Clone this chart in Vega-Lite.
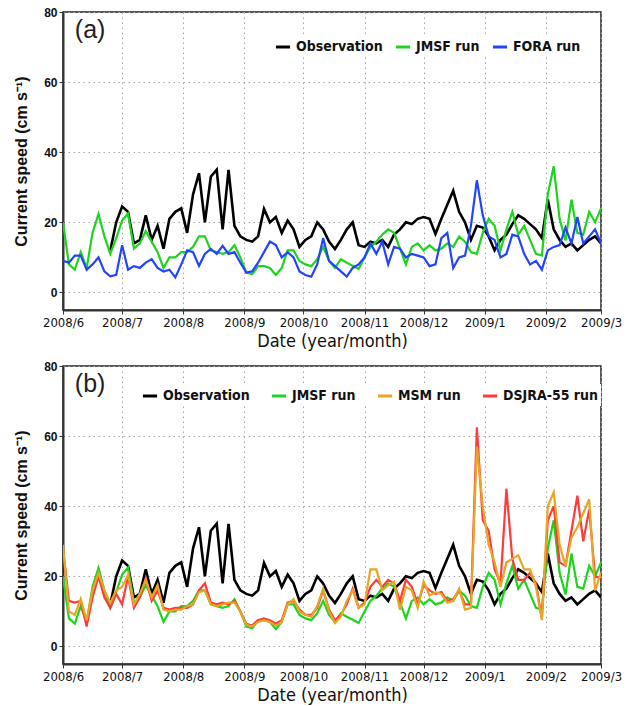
{
  "$schema": "https://vega.github.io/schema/vega-lite/v6.json",
  "padding": {"left": 12, "top": 5, "right": 10, "bottom": 5},
  "background": "white",
  "config": {
    "font": "Liberation Sans",
    "view": {"stroke": "#222", "strokeWidth": 1.5},
    "axis": {
      "grid": true, "gridDash": [1.5, 3.5], "gridColor": "#a8a8a8", "gridWidth": 1,
      "domainColor": "#333", "domainWidth": 2, "tickColor": "#333", "tickSize": 4, "tickWidth": 1,
      "labelColor": "#111", "titleColor": "#111"
    },
    "legend": {"padding": 3}
  },
  "datasets": {
    "d": [
      {"t": "2008-06-01", "o": null, "j": 20, "f": 9, "m": 29, "r": 28},
      {"t": "2008-06-04", "o": null, "j": 8, "f": 8.5, "m": 10, "r": 13},
      {"t": "2008-06-07", "o": null, "j": 6.5, "f": 10.5, "m": 9, "r": 12.5},
      {"t": "2008-06-10", "o": null, "j": 11.5, "f": 10.5, "m": 13.5, "r": 13},
      {"t": "2008-06-13", "o": null, "j": 7, "f": 6.5, "m": 7.5, "r": 5.7},
      {"t": "2008-06-16", "o": null, "j": 17, "f": 8, "m": 16, "r": 14},
      {"t": "2008-06-19", "o": null, "j": 22.4, "f": 10, "m": 21, "r": 20},
      {"t": "2008-06-22", "o": null, "j": 16, "f": 6, "m": 16, "r": 14},
      {"t": "2008-06-25", "o": 12, "j": 11, "f": 4.6, "m": 12.5, "r": 11},
      {"t": "2008-06-28", "o": 20, "j": 15.5, "f": 5, "m": 16, "r": 15},
      {"t": "2008-07-01", "o": 24.5, "j": 20.5, "f": 13.5, "m": 17, "r": 12},
      {"t": "2008-07-04", "o": 23, "j": 22.5, "f": 6.5, "m": 20.5, "r": 20},
      {"t": "2008-07-07", "o": 14, "j": 12.5, "f": 7.5, "m": 12, "r": 11},
      {"t": "2008-07-10", "o": 15, "j": 14, "f": 7, "m": 15, "r": 14},
      {"t": "2008-07-13", "o": 22, "j": 17.5, "f": 8.5, "m": 19, "r": 19.5},
      {"t": "2008-07-16", "o": 15, "j": 14.5, "f": 9.5, "m": 14, "r": 13},
      {"t": "2008-07-19", "o": 19, "j": 11.5, "f": 7, "m": 17.5, "r": 16},
      {"t": "2008-07-22", "o": 12.5, "j": 7, "f": 6, "m": 10.5, "r": 11},
      {"t": "2008-07-25", "o": 21, "j": 10, "f": 6.5, "m": 10, "r": 10.5},
      {"t": "2008-07-28", "o": 23, "j": 10, "f": 4.3, "m": 10.5, "r": 11},
      {"t": "2008-07-31", "o": 24, "j": 11.5, "f": 8, "m": 10.5, "r": 11},
      {"t": "2008-08-03", "o": 17, "j": 11.5, "f": 12, "m": 11.5, "r": 11},
      {"t": "2008-08-06", "o": 28, "j": 13, "f": 11.5, "m": 12, "r": 12},
      {"t": "2008-08-09", "o": 34, "j": 16, "f": 7.6, "m": 15.5, "r": 16},
      {"t": "2008-08-12", "o": 20, "j": 16, "f": 11, "m": 16, "r": 18},
      {"t": "2008-08-15", "o": 33, "j": 12, "f": 12.4, "m": 12, "r": 12.5},
      {"t": "2008-08-18", "o": 35, "j": 11.5, "f": 11, "m": 11.5, "r": 12},
      {"t": "2008-08-21", "o": 18, "j": 11, "f": 13.3, "m": 12, "r": 12.5},
      {"t": "2008-08-24", "o": 35, "j": 11.5, "f": 11, "m": 12.5, "r": 12},
      {"t": "2008-08-27", "o": 19, "j": 13.5, "f": 11.5, "m": 12.5, "r": 13},
      {"t": "2008-08-30", "o": 16, "j": 10, "f": 8.5, "m": 10, "r": 10},
      {"t": "2008-09-02", "o": 15, "j": 5.7, "f": 5.7, "m": 6.2, "r": 6.5},
      {"t": "2008-09-05", "o": 14.5, "j": 5.2, "f": 6, "m": 5.7, "r": 6},
      {"t": "2008-09-08", "o": 16, "j": 7.5, "f": 8.5, "m": 7, "r": 7.5},
      {"t": "2008-09-11", "o": 23.8, "j": 7.5, "f": 11.5, "m": 7.5, "r": 8},
      {"t": "2008-09-14", "o": 20, "j": 7, "f": 14.5, "m": 7, "r": 7.5},
      {"t": "2008-09-17", "o": 21.5, "j": 5, "f": 13.5, "m": 6, "r": 6.5},
      {"t": "2008-09-20", "o": 17, "j": 7, "f": 10, "m": 7, "r": 7.5},
      {"t": "2008-09-23", "o": 20.5, "j": 12, "f": 11.5, "m": 12, "r": 12.5},
      {"t": "2008-09-26", "o": 18, "j": 12, "f": 10, "m": 13.5, "r": 13},
      {"t": "2008-09-29", "o": 13, "j": 9, "f": 6, "m": 10, "r": 10.5},
      {"t": "2008-10-02", "o": 15, "j": 8, "f": 5, "m": 9, "r": 9},
      {"t": "2008-10-05", "o": 16, "j": 7.5, "f": 4.5, "m": 8.5, "r": 9},
      {"t": "2008-10-08", "o": 20, "j": 9.5, "f": 8, "m": 11.5, "r": 11},
      {"t": "2008-10-11", "o": 18, "j": 13, "f": 15.5, "m": 16.5, "r": 16},
      {"t": "2008-10-14", "o": 14.5, "j": 9, "f": 9, "m": 10, "r": 10.5},
      {"t": "2008-10-17", "o": 12.4, "j": 7, "f": 7.5, "m": 6.7, "r": 7.5},
      {"t": "2008-10-20", "o": 15, "j": 9.5, "f": 6, "m": 8.5, "r": 9},
      {"t": "2008-10-23", "o": 18, "j": 8.5, "f": 4.5, "m": 13, "r": 12},
      {"t": "2008-10-26", "o": 20, "j": 7.6, "f": 7, "m": 16, "r": 16.5},
      {"t": "2008-10-29", "o": 13.5, "j": 6.7, "f": 8, "m": 11, "r": 11},
      {"t": "2008-11-01", "o": 13, "j": 10, "f": 10, "m": 12, "r": 12.5},
      {"t": "2008-11-04", "o": 14.5, "j": 13, "f": 14, "m": 22, "r": 17},
      {"t": "2008-11-07", "o": 14, "j": 14.5, "f": 11, "m": 22, "r": 19},
      {"t": "2008-11-10", "o": 15, "j": 16.5, "f": 14.5, "m": 16, "r": 17},
      {"t": "2008-11-13", "o": 13, "j": 18, "f": 8, "m": 17.5, "r": 19},
      {"t": "2008-11-16", "o": 16.5, "j": 17, "f": 13, "m": 18.5, "r": 18},
      {"t": "2008-11-19", "o": 18, "j": 12.5, "f": 12.5, "m": 10.5, "r": 13},
      {"t": "2008-11-22", "o": 20, "j": 8, "f": 10, "m": 17, "r": 19},
      {"t": "2008-11-25", "o": 19.5, "j": 13, "f": 11, "m": 16, "r": 17},
      {"t": "2008-11-28", "o": 21, "j": 14, "f": 10.5, "m": 11, "r": 12},
      {"t": "2008-12-01", "o": 21.5, "j": 12, "f": 10, "m": 18.5, "r": 17.5},
      {"t": "2008-12-04", "o": 21, "j": 13.5, "f": 7.5, "m": 14.5, "r": 16},
      {"t": "2008-12-07", "o": 16.7, "j": 12, "f": 8, "m": 15.5, "r": 15},
      {"t": "2008-12-10", "o": 21, "j": 12.5, "f": 15.5, "m": 15, "r": 15.5},
      {"t": "2008-12-13", "o": 25, "j": 14, "f": 17, "m": 12.5, "r": 13},
      {"t": "2008-12-16", "o": 29, "j": 13, "f": 7, "m": 13, "r": 13.5},
      {"t": "2008-12-19", "o": 23, "j": 16, "f": 10, "m": 16.5, "r": 16},
      {"t": "2008-12-22", "o": 20, "j": 14.5, "f": 10.5, "m": 10.5, "r": 12},
      {"t": "2008-12-25", "o": 15, "j": 11.5, "f": 19, "m": 11, "r": 12},
      {"t": "2008-12-28", "o": 19, "j": 11, "f": 32, "m": 57, "r": 62.5},
      {"t": "2008-12-31", "o": 18.5, "j": 17, "f": 22, "m": 40, "r": 36},
      {"t": "2009-01-03", "o": 16, "j": 21, "f": 16, "m": 29, "r": 33},
      {"t": "2009-01-06", "o": 12, "j": 19, "f": 15, "m": 24, "r": 22},
      {"t": "2009-01-09", "o": 15, "j": 12, "f": 10, "m": 17, "r": 18},
      {"t": "2009-01-12", "o": 16.5, "j": 18, "f": 11, "m": 24, "r": 45},
      {"t": "2009-01-15", "o": 19.5, "j": 23, "f": 16.5, "m": 25, "r": 25},
      {"t": "2009-01-18", "o": 22, "j": 16.5, "f": 16, "m": 26, "r": 19},
      {"t": "2009-01-21", "o": 21, "j": 19, "f": 11, "m": 22, "r": 19},
      {"t": "2009-01-24", "o": 19.5, "j": 15, "f": 8, "m": 22, "r": 21},
      {"t": "2009-01-27", "o": 18, "j": 11, "f": 9, "m": 17, "r": 18},
      {"t": "2009-01-30", "o": 15.5, "j": 10.5, "f": 6.5, "m": 7.5, "r": 8},
      {"t": "2009-02-02", "o": 26.5, "j": 28, "f": 12, "m": 40, "r": 36},
      {"t": "2009-02-05", "o": 18, "j": 36, "f": 13, "m": 44, "r": 40},
      {"t": "2009-02-08", "o": 15, "j": 21, "f": 13.5, "m": 29, "r": 24},
      {"t": "2009-02-11", "o": 13, "j": 14.8, "f": 18.5, "m": 23, "r": 23},
      {"t": "2009-02-14", "o": 14, "j": 26.5, "f": 14, "m": 31, "r": 33},
      {"t": "2009-02-17", "o": 12, "j": 17, "f": 21.5, "m": 34, "r": 43},
      {"t": "2009-02-20", "o": 13.5, "j": 16.5, "f": 14, "m": 38, "r": 30},
      {"t": "2009-02-23", "o": 15, "j": 23, "f": 16, "m": 42, "r": 39},
      {"t": "2009-02-26", "o": 16, "j": 20, "f": 18, "m": 16, "r": 20},
      {"t": "2009-03-01", "o": 14, "j": 24, "f": 14, "m": 21, "r": 19.5}
    ]
  },
  "spacing": 8,
  "resolve": {"scale": {"color": "independent"}, "legend": {"color": "independent"}},
  "vconcat": [
    {
      "width": 538, "height": 298,
      "encoding": {
        "x": {
          "field": "t", "type": "temporal", "title": "Date (year/month)",
          "scale": {"type": "utc", "domain": [{"year": 2008, "month": 6, "date": 1, "utc": true}, {"year": 2009, "month": 3, "date": 1, "utc": true}]},
          "axis": {
            "values": [
              {"year": 2008, "month": 6, "date": 1, "utc": true}, {"year": 2008, "month": 7, "date": 1, "utc": true},
              {"year": 2008, "month": 8, "date": 1, "utc": true}, {"year": 2008, "month": 9, "date": 1, "utc": true},
              {"year": 2008, "month": 10, "date": 1, "utc": true}, {"year": 2008, "month": 11, "date": 1, "utc": true},
              {"year": 2008, "month": 12, "date": 1, "utc": true}, {"year": 2009, "month": 1, "date": 1, "utc": true},
              {"year": 2009, "month": 2, "date": 1, "utc": true}, {"year": 2009, "month": 3, "date": 1, "utc": true}
            ],
            "labelExpr": "utcFormat(datum.value, '%Y/%-m')", "labelOverlap": false, "labelFlush": false,
            "labelFont": "DejaVu Sans Condensed, Liberation Sans", "labelFontSize": 13, "labelPadding": 2,
            "titleFont": "DejaVu Sans Condensed, Liberation Sans", "titleFontSize": 18, "titleFontWeight": "normal", "titlePadding": 3
          }
        }
      },
      "layer": [
        {
          "data": {"name": "d"},
          "mark": {"type": "line", "strokeWidth": 2.6, "clip": true},
          "encoding": {
            "y": {"field": "o", "type": "quantitative", "title": "Current speed (cm s⁻¹)",
              "scale": {"domain": [-5, 80], "nice": false},
              "axis": {"values": [0, 10, 20, 30, 40, 50, 60, 70, 80], "labelFontWeight": "bold", "labelFontSize": 12, "labelPadding": 2,
                "titleFontSize": 16, "titleFontWeight": "bold", "titlePadding": 14}},
            "color": {"datum": "Observation", "type": "nominal",
              "scale": {"domain": ["Observation", "JMSF run", "FORA run"], "range": ["#000000", "#1ed41e", "#2244ff"]},
              "legend": {"orient": "none", "legendX": 208, "legendY": 23, "direction": "horizontal", "title": null,
                "symbolType": "stroke", "symbolStrokeWidth": 3, "symbolSize": 200, "symbolOpacity": 1,
                "labelFont": "DejaVu Sans Condensed, Liberation Sans", "labelFontWeight": "bold", "labelFontSize": 14, "labelColor": "#111",
                "columnPadding": 6, "fillColor": "white"}}
          }
        },
        {
          "data": {"name": "d"},
          "mark": {"type": "line", "strokeWidth": 2.2, "clip": true},
          "encoding": {
            "y": {"field": "j", "type": "quantitative", "title": "Current speed (cm s⁻¹)"},
            "color": {"datum": "JMSF run", "type": "nominal"}
          }
        },
        {
          "data": {"name": "d"},
          "mark": {"type": "line", "strokeWidth": 2.2, "clip": true},
          "encoding": {
            "y": {"field": "f", "type": "quantitative", "title": "Current speed (cm s⁻¹)"},
            "color": {"datum": "FORA run", "type": "nominal"}
          }
        },
        {
          "data": {"values": [{"t": "2008-06-07", "v": 75, "lbl": "(a)"}]},
          "mark": {"type": "text", "align": "left", "baseline": "middle", "fontSize": 25, "fontWeight": "normal", "fill": "#222"},
          "encoding": {
            "y": {"field": "v", "type": "quantitative", "title": "Current speed (cm s⁻¹)"},
            "text": {"field": "lbl"}
          }
        }
      ]
    },
    {
      "width": 538, "height": 298,
      "encoding": {
        "x": {
          "field": "t", "type": "temporal", "title": "Date (year/month)",
          "scale": {"type": "utc", "domain": [{"year": 2008, "month": 6, "date": 1, "utc": true}, {"year": 2009, "month": 3, "date": 1, "utc": true}]},
          "axis": {
            "values": [
              {"year": 2008, "month": 6, "date": 1, "utc": true}, {"year": 2008, "month": 7, "date": 1, "utc": true},
              {"year": 2008, "month": 8, "date": 1, "utc": true}, {"year": 2008, "month": 9, "date": 1, "utc": true},
              {"year": 2008, "month": 10, "date": 1, "utc": true}, {"year": 2008, "month": 11, "date": 1, "utc": true},
              {"year": 2008, "month": 12, "date": 1, "utc": true}, {"year": 2009, "month": 1, "date": 1, "utc": true},
              {"year": 2009, "month": 2, "date": 1, "utc": true}, {"year": 2009, "month": 3, "date": 1, "utc": true}
            ],
            "labelExpr": "utcFormat(datum.value, '%Y/%-m')", "labelOverlap": false, "labelFlush": false,
            "labelFont": "DejaVu Sans Condensed, Liberation Sans", "labelFontSize": 13, "labelPadding": 2,
            "titleFont": "DejaVu Sans Condensed, Liberation Sans", "titleFontSize": 18, "titleFontWeight": "normal", "titlePadding": 3
          }
        }
      },
      "layer": [
        {
          "data": {"name": "d"},
          "mark": {"type": "line", "strokeWidth": 2.6, "clip": true},
          "encoding": {
            "y": {"field": "o", "type": "quantitative", "title": "Current speed (cm s⁻¹)",
              "scale": {"domain": [-5, 80], "nice": false},
              "axis": {"values": [0, 10, 20, 30, 40, 50, 60, 70, 80], "labelFontWeight": "bold", "labelFontSize": 12, "labelPadding": 2,
                "titleFontSize": 16, "titleFontWeight": "bold", "titlePadding": 14}},
            "color": {"datum": "Observation", "type": "nominal",
              "scale": {"domain": ["Observation", "JMSF run", "MSM run", "DSJRA-55 run"], "range": ["#000000", "#1ed41e", "#e8a526", "#ff3b3b"]},
              "legend": {"orient": "none", "legendX": 75, "legendY": 18, "direction": "horizontal", "title": null,
                "symbolType": "stroke", "symbolStrokeWidth": 3, "symbolSize": 200, "symbolOpacity": 1,
                "labelFont": "DejaVu Sans Condensed, Liberation Sans", "labelFontWeight": "bold", "labelFontSize": 14, "labelColor": "#111",
                "columnPadding": 15, "fillColor": "white"}}
          }
        },
        {
          "data": {"name": "d"},
          "mark": {"type": "line", "strokeWidth": 2.2, "clip": true},
          "encoding": {
            "y": {"field": "j", "type": "quantitative", "title": "Current speed (cm s⁻¹)"},
            "color": {"datum": "JMSF run", "type": "nominal"}
          }
        },
        {
          "data": {"name": "d"},
          "mark": {"type": "line", "strokeWidth": 2.2, "clip": true},
          "encoding": {
            "y": {"field": "r", "type": "quantitative", "title": "Current speed (cm s⁻¹)"},
            "color": {"datum": "DSJRA-55 run", "type": "nominal"}
          }
        },
        {
          "data": {"name": "d"},
          "mark": {"type": "line", "strokeWidth": 2.2, "clip": true},
          "encoding": {
            "y": {"field": "m", "type": "quantitative", "title": "Current speed (cm s⁻¹)"},
            "color": {"datum": "MSM run", "type": "nominal"}
          }
        },
        {
          "data": {"values": [{"t": "2008-06-07", "v": 75, "lbl": "(b)"}]},
          "mark": {"type": "text", "align": "left", "baseline": "middle", "fontSize": 25, "fontWeight": "normal", "fill": "#222"},
          "encoding": {
            "y": {"field": "v", "type": "quantitative", "title": "Current speed (cm s⁻¹)"},
            "text": {"field": "lbl"}
          }
        }
      ]
    }
  ]
}
